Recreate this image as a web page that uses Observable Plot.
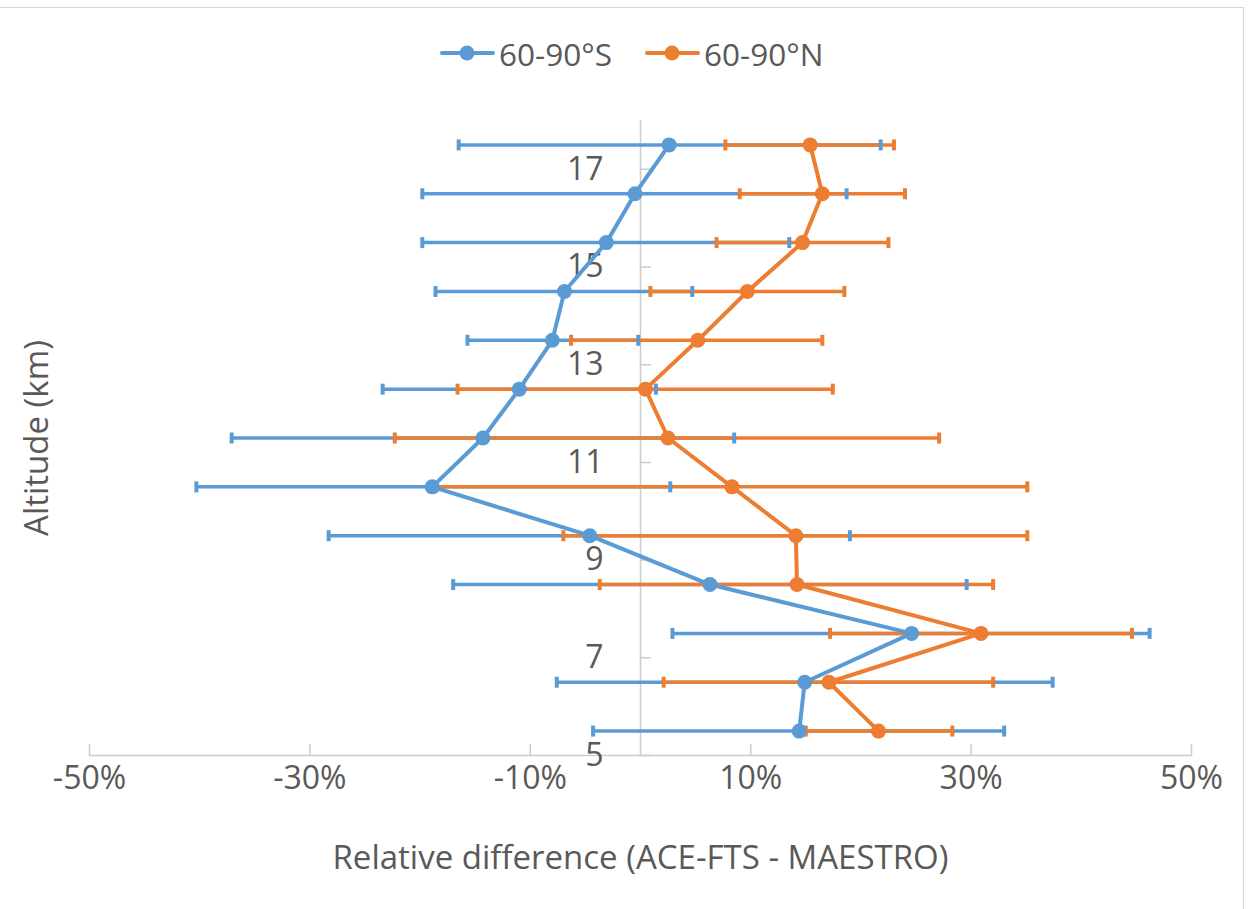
<!DOCTYPE html>
<html><head><meta charset="utf-8">
<script src="https://cdn.jsdelivr.net/npm/d3@7"></script>
<script src="https://cdn.jsdelivr.net/npm/@observablehq/plot@0.6"></script>
<style>
body{margin:0;background:#fff;}
#wrap{position:relative;width:1251px;height:909px;overflow:hidden;font-family:"Open Sans",sans-serif;background:#fff;}
#chart{position:absolute;left:0;top:0;}
#frame{position:absolute;left:-2px;top:7px;width:1246px;height:920px;border:1px solid #d9d9d9;box-sizing:border-box;pointer-events:none}
.item{position:absolute;top:31px;height:44px;display:flex;align-items:center;font-size:31.5px;color:#595959;white-space:nowrap;}
.item svg{margin-right:4px;}
</style></head><body>
<div id="wrap"><div id="chart"></div><div id="legend"></div><div id="frame"></div></div>
<script>
// ---- data ----
const altitudes = [17.5, 16.5, 15.5, 14.5, 13.5, 12.5, 11.5, 10.5, 9.5, 8.5, 7.5, 6.5, 5.5];
const seriesNames = ["60-90°S", "60-90°N"];
const seriesColors = ["#5B9BD5", "#ED7D31"];
const southVal = [2.6, -0.5, -3.1, -6.9, -8.0, -11.0, -14.3, -18.9, -4.6, 6.3, 24.6, 14.9, 14.4];
const southLo  = [-16.5, -19.8, -19.8, -18.6, -15.7, -23.4, -37.1, -40.3, -28.3, -17.0, 2.9, -7.6, -4.3];
const southHi  = [21.8, 18.7, 13.5, 4.7, -0.2, 1.4, 8.5, 2.7, 19.0, 29.6, 46.2, 37.4, 33.0];
const northVal = [15.4, 16.5, 14.7, 9.7, 5.2, 0.45, 2.5, 8.3, 14.1, 14.2, 30.9, 17.1, 21.6];
const northLo  = [7.7, 9.0, 6.9, 0.9, -6.3, -16.6, -22.3, -18.5, -7.0, -3.7, 17.2, 2.1, 15.0];
const northHi  = [23.0, 24.0, 22.5, 18.5, 16.5, 17.45, 27.1, 35.1, 35.1, 32.0, 44.6, 32.0, 28.3];
const xTicks = [-50, -30, -10, 10, 30, 50];
const yTicks = [5, 7, 9, 11, 13, 15, 17];
const xTitle = "Relative difference (ACE-FTS - MAESTRO)";
const yTitle = "Altitude (km)";

// ---- tables ----
const south = altitudes.map((a, i) => ({alt: a, v: southVal[i], lo: southLo[i], hi: southHi[i]}));
const north = altitudes.map((a, i) => ({alt: a, v: northVal[i], lo: northLo[i], hi: northHi[i]}));
const ends = rows => rows.flatMap(d => [{alt: d.alt, x: d.lo}, {alt: d.alt, x: d.hi}]);

const lineShape = {draw(ctx, l) { ctx.moveTo(0, 0); ctx.lineTo(0, -l); }};
const textColor = "#595959";
const axisColor = "#cccccc";

function seriesBars(rows, color) {
  return Plot.link(rows, {x1: "lo", x2: "hi", y1: "alt", y2: "alt", stroke: color, strokeWidth: 3.5});
}
function seriesCaps(rows, color) {
  return Plot.vector(ends(rows), {x: "x", y: "alt", length: 11, rotate: 0, anchor: "middle",
    shape: lineShape, stroke: color, strokeWidth: 4, strokeLinecap: "butt"});
}

const chart = Plot.plot({
  width: 1251, height: 909,
  marginLeft: 89, marginRight: 60, marginTop: 120, marginBottom: 154,
  x: {domain: [-50, 50], axis: null},
  y: {domain: [5, 18], axis: null},
  style: {fontFamily: "'Open Sans', sans-serif", background: "transparent"},
  marks: [
    Plot.ruleY([5], {stroke: axisColor, strokeWidth: 1.5}),
    Plot.ruleX([0], {stroke: axisColor, strokeWidth: 1.5}),
    Plot.vector(xTicks, {x: d => d, frameAnchor: "bottom", length: 11, rotate: 0, anchor: "start",
      shape: lineShape, stroke: axisColor, strokeWidth: 1.5}),
    Plot.vector(yTicks, {x: d => 0, y: d => d, length: 10, rotate: 90, anchor: "start",
      shape: lineShape, stroke: axisColor, strokeWidth: 1.5}),
    Plot.text(xTicks, {x: d => d, frameAnchor: "bottom", lineAnchor: "middle", dy: 23, text: d => d + "%",
      fontSize: 32, fill: textColor}),
    Plot.text(yTicks, {x: d => 0, y: d => d, dx: -37, text: d => String(d), textAnchor: "end",
      fontSize: 32, fill: textColor}),
    Plot.text([xTitle], {frameAnchor: "bottom", lineAnchor: "middle", textAnchor: "middle", dy: 103,
      text: d => d, fontSize: 33, fill: textColor}),
    Plot.text([yTitle], {frameAnchor: "left", textAnchor: "middle", lineAnchor: "middle", dx: -52, rotate: -90,
      text: d => d, fontSize: 33, fill: textColor}),
    seriesBars(south, seriesColors[0]),
    seriesBars(north, seriesColors[1]),
    seriesCaps(south, seriesColors[0]),
    seriesCaps(north, seriesColors[1]),
    Plot.line(south, {x: "v", y: "alt", stroke: seriesColors[0], strokeWidth: 4}),
    Plot.line(north, {x: "v", y: "alt", stroke: seriesColors[1], strokeWidth: 4}),
    Plot.dot(south, {x: "v", y: "alt", r: 7.5, fill: seriesColors[0]}),
    Plot.dot(north, {x: "v", y: "alt", r: 7.5, fill: seriesColors[1]})
  ]
});
document.getElementById("chart").appendChild(chart);

// ---- legend (HTML, above the plot area) ----
const legend = document.getElementById("legend");
const legendLeft = [440, 645];
seriesNames.forEach((name, i) => {
  const item = document.createElement("div");
  item.className = "item";
  item.style.left = legendLeft[i] + "px";
  item.innerHTML = `<svg width="55" height="20"><line x1="2" y1="10" x2="53" y2="10" stroke="${seriesColors[i]}" stroke-width="4" stroke-linecap="round"/><circle cx="27" cy="10" r="7.5" fill="${seriesColors[i]}"/></svg><span>${name}</span>`;
  legend.appendChild(item);
});
</script>
</body></html>
